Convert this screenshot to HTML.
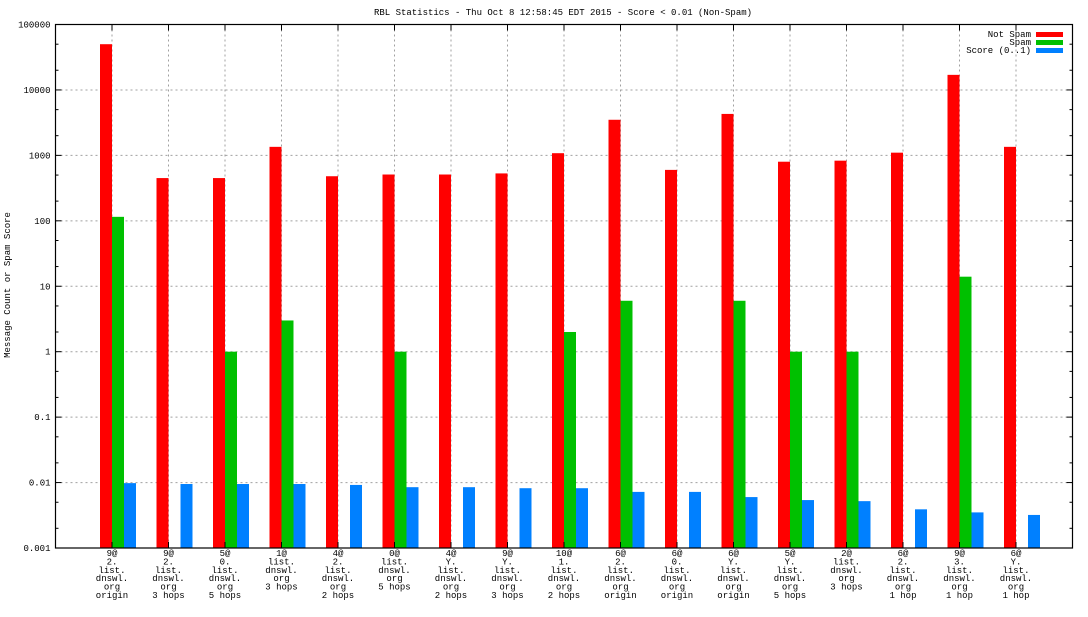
<!DOCTYPE html>
<html><head><meta charset="utf-8"><style>
body{margin:0;background:#fff;}
svg text{font-family:"Liberation Mono","DejaVu Sans Mono",monospace;font-size:9px;fill:#000;}
</style></head><body>
<svg id="chart" width="1088" height="612" xmlns="http://www.w3.org/2000/svg">
<text x="563" y="15" text-anchor="middle">RBL Statistics - Thu Oct  8 12:58:45 EDT 2015 - Score &lt; 0.01 (Non-Spam)</text>
<text transform="translate(10,285) rotate(-90)" text-anchor="middle">Message Count or Spam Score</text>
<g id="grid"></g><g id="bars"></g><g id="axes"></g>
<g>
<text x="1031" y="37" text-anchor="end">Not Spam</text><rect x="1036" y="32" width="27" height="5" fill="#ff0000"/>
<text x="1031" y="45" text-anchor="end">Spam</text><rect x="1036" y="40" width="27" height="5" fill="#00c000"/>
<text x="1031" y="53" text-anchor="end">Score (0..1)</text><rect x="1036" y="48" width="27" height="5" fill="#0080ff"/>
</g>
</svg>
<script>
const categories=[["9@","2.","list.","dnswl.","org","origin"],["9@","2.","list.","dnswl.","org","3 hops"],["5@","0.","list.","dnswl.","org","5 hops"],["1@","list.","dnswl.","org","3 hops"],["4@","2.","list.","dnswl.","org","2 hops"],["0@","list.","dnswl.","org","5 hops"],["4@","Y.","list.","dnswl.","org","2 hops"],["9@","Y.","list.","dnswl.","org","3 hops"],["10@","1.","list.","dnswl.","org","2 hops"],["6@","2.","list.","dnswl.","org","origin"],["6@","0.","list.","dnswl.","org","origin"],["6@","Y.","list.","dnswl.","org","origin"],["5@","Y.","list.","dnswl.","org","5 hops"],["2@","list.","dnswl.","org","3 hops"],["6@","2.","list.","dnswl.","org","1 hop"],["9@","3.","list.","dnswl.","org","1 hop"],["6@","Y.","list.","dnswl.","org","1 hop"]];
const notSpam=[50000,450,450,1350,480,510,510,530,1080,3500,600,4300,800,830,1100,17000,1350];
const spam=[115,0,1,3,0,1,0,0,2,6,0,6,1,1,0,14,0];
const score=[0.0098,0.0095,0.0095,0.0095,0.0092,0.0085,0.0085,0.0082,0.0082,0.0072,0.0072,0.006,0.0054,0.0052,0.0039,0.0035,0.0032];
const yTicks=[0.001,0.01,0.1,1,10,100,1000,10000,100000];
const yTickLabels=["0.001","0.01","0.1","1","10","100","1000","10000","100000"];
const L=55.5,R=1072.5,T=24.5,B=548;
const NS="http://www.w3.org/2000/svg";
function y(v){return B-(Math.log10(v)+3)/8*(B-T);}
function xc(i){return L+(i+1)*(R-L)/(categories.length+1);}
function mk(p,tag,a){const e=document.createElementNS(NS,tag);for(const k in a)e.setAttribute(k,a[k]);p.appendChild(e);return e;}
const grid=document.getElementById('grid'),bars=document.getElementById('bars'),axes=document.getElementById('axes');
yTicks.forEach((v,k)=>{const yy=y(v);
 if(k>0&&k<yTicks.length-1){const g=mk(grid,'line',{x1:L,x2:R,y1:yy,y2:yy,stroke:'#a0a0a0','stroke-dasharray':'2,3'});
 
 }
 mk(axes,'line',{x1:L,x2:L+6,y1:yy,y2:yy,stroke:'#000'});mk(axes,'line',{x1:R,x2:R-6,y1:yy,y2:yy,stroke:'#000'});
 const t=mk(axes,'text',{x:L-5,y:yy+3,'text-anchor':'end'});t.textContent=yTickLabels[k];
 
 
 if(k<yTicks.length-1)[2,5].forEach(m=>{const my=y(v*m);mk(axes,'line',{x1:L,x2:L+3,y1:my,y2:my,stroke:'#000'});mk(axes,'line',{x1:R,x2:R-3,y1:my,y2:my,stroke:'#000'});});
});
categories.forEach((c,i)=>{const cx=xc(i);
 const g=mk(grid,'line',{x1:cx,x2:cx,y1:T,y2:B,stroke:'#a0a0a0','stroke-dasharray':'2,3'});
 
 
 mk(axes,'line',{x1:cx,x2:cx,y1:B,y2:B-6,stroke:'#000'});mk(axes,'line',{x1:cx,x2:cx,y1:T,y2:T+6,stroke:'#000'});
 c.forEach((s,j)=>{const t=mk(axes,'text',{x:cx,y:556+j*8.4,'text-anchor':'middle'});t.textContent=s;
 
 });
 [[notSpam,'#ff0000',-12,'bar-not-spam'],[spam,'#00c000',0,'bar-spam'],[score,'#0080ff',12,'bar-score']].forEach(([arr,col,off,nm])=>{
  const v=arr[i];if(!(v>0.001))return;const yy=y(v);
  const r=mk(bars,'rect',{x:cx+off,y:yy,width:12,height:B-yy,fill:col});
  
  
 });
});
const fr=mk(axes,'rect',{x:L,y:T,width:R-L,height:B-T,fill:'none',stroke:'#000','stroke-width':1.2});


</script>
</body></html>
